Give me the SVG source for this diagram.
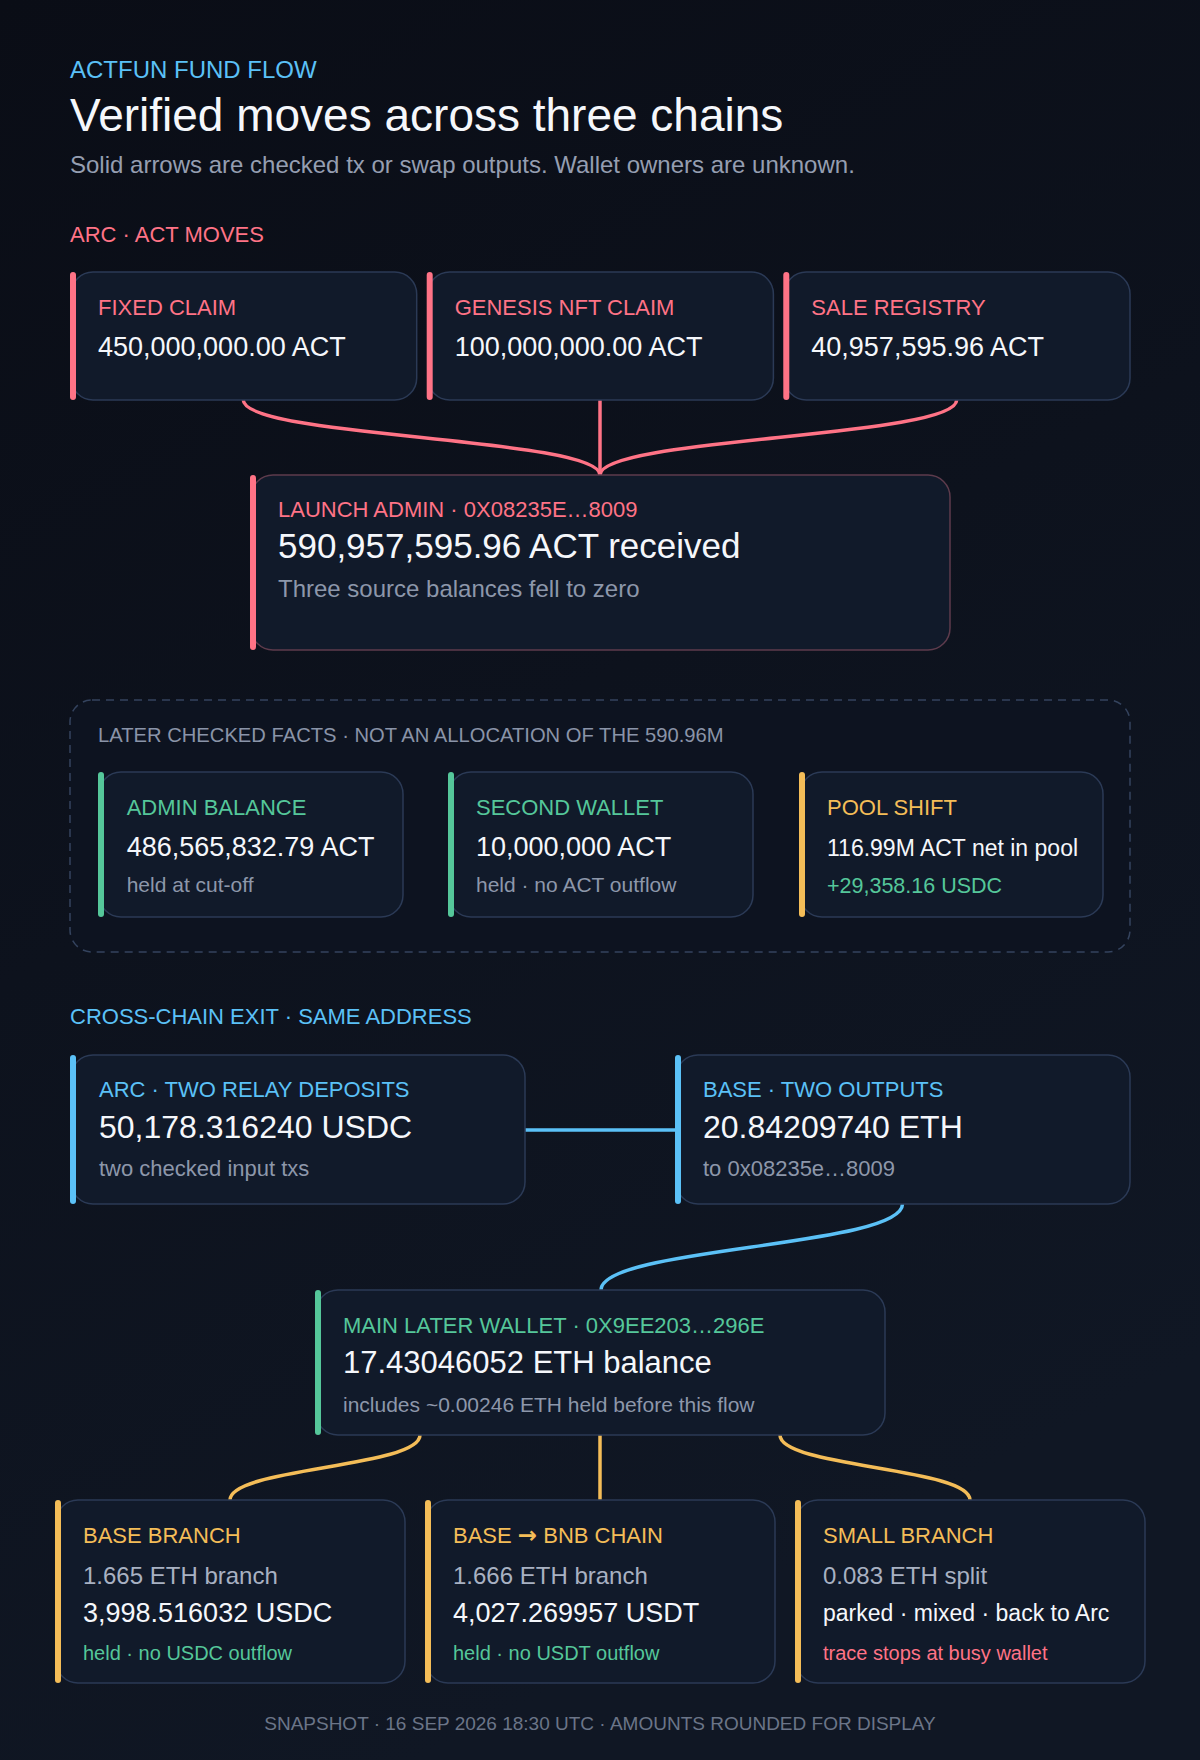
<svg xmlns="http://www.w3.org/2000/svg" width="1200" height="1760" viewBox="0 0 1200 1760">
<defs>
<linearGradient id="bg" x1="0" y1="0" x2="0.35" y2="1">
<stop offset="0" stop-color="#0a0d16"/>
<stop offset="1" stop-color="#101724"/>
</linearGradient>
<style>
text{font-family:"Liberation Sans",Arial,Helvetica,sans-serif}
.card{fill:#111a2a;stroke:#2b3a56;stroke-width:1.5}
.pinkbar{fill:#ff7386}
.greenbar{fill:#55c79a}
.yellowbar{fill:#f4bd58}
.bluebar{fill:#5bc1f7}
.lbl{font-size:22px}
.pink{fill:#ff7386}
.green{fill:#55c79a}
.yellow{fill:#f4bd58}
.blue{fill:#5bc1f7}
.val{fill:#f5f7fb;font-size:27px}
.sub{fill:#8d97aa}
.lite{fill:#a8b1c2;font-size:24px}
.con{fill:none;stroke-width:3.5;stroke-linecap:round}
</style>
</defs>
<rect width="1200" height="1760" fill="url(#bg)"/>

<g id="header">
<text x="70" y="78" font-size="24" class="blue">ACTFUN FUND FLOW</text>
<text x="70" y="131" font-size="46" fill="#f5f7fb">Verified moves across three chains</text>
<text x="70" y="173" font-size="24" fill="#959eb1">Solid arrows are checked tx or swap outputs. Wallet owners are unknown.</text>
<text x="70" y="242" class="lbl pink">ARC · ACT MOVES</text>
<text x="70" y="1024" class="lbl blue">CROSS-CHAIN EXIT · SAME ADDRESS</text>
</g>

<g id="connectors">
<path class="con" stroke="#ff7386" d="M243.3 400 C243.3 437.5 600 437.5 600 475"/>
<path class="con" stroke="#ff7386" d="M600 400 V475"/>
<path class="con" stroke="#ff7386" d="M956.7 400 C956.7 437.5 600 437.5 600 475"/>
<path class="con" stroke="#5bc1f7" stroke-width="4" d="M525 1130 H675"/>
<path class="con" stroke="#5bc1f7" stroke-width="4" d="M902.5 1204 C902.5 1247 601 1247 601 1290"/>
<path class="con" stroke="#f4bd58" d="M420 1435 C420 1467.5 230 1467.5 230 1500"/>
<path class="con" stroke="#f4bd58" d="M600 1435 V1500"/>
<path class="con" stroke="#f4bd58" d="M780 1435 C780 1467.5 970 1467.5 970 1500"/>
</g>

<g id="fixed-claim">
<rect class="card" x="71" y="272" width="345.7" height="128" rx="22"/>
<rect class="pinkbar" x="70" y="272" width="6" height="128" rx="3"/>
<text x="98" y="315" class="lbl pink">FIXED CLAIM</text>
<text x="98" y="356" class="val">450,000,000.00 ACT</text>
</g>
<g id="genesis-nft-claim">
<rect class="card" x="427.7" y="272" width="345.7" height="128" rx="22"/>
<rect class="pinkbar" x="426.7" y="272" width="6" height="128" rx="3"/>
<text x="454.7" y="315" class="lbl pink">GENESIS NFT CLAIM</text>
<text x="454.7" y="356" class="val">100,000,000.00 ACT</text>
</g>
<g id="sale-registry">
<rect class="card" x="784.3" y="272" width="345.7" height="128" rx="22"/>
<rect class="pinkbar" x="783.3" y="272" width="6" height="128" rx="3"/>
<text x="811.3" y="315" class="lbl pink">SALE REGISTRY</text>
<text x="811.3" y="356" class="val">40,957,595.96 ACT</text>
</g>

<g id="launch-admin">
<rect x="251" y="475" width="699" height="175" rx="22" fill="#111a2a" stroke="#5d3b4c" stroke-width="1.5"/>
<rect class="pinkbar" x="250" y="475" width="6" height="175" rx="3"/>
<text x="278" y="517" class="lbl pink">LAUNCH ADMIN · 0X08235E…8009</text>
<text x="278" y="558" font-size="35" fill="#f5f7fb">590,957,595.96 ACT received</text>
<text x="278" y="597" font-size="24" class="sub">Three source balances fell to zero</text>
</g>

<g id="later-facts">
<rect x="70" y="700" width="1060" height="252" rx="22" fill="#0d1320" stroke="#34435e" stroke-width="1.5" stroke-dasharray="8 6"/>
<text x="98" y="742" font-size="20.2" fill="#8a94a8">LATER CHECKED FACTS · NOT AN ALLOCATION OF THE 590.96M</text>
</g>

<g id="admin-balance">
<rect class="card" x="99" y="772" width="304" height="145" rx="22"/>
<rect class="greenbar" x="98" y="772" width="6" height="145" rx="3"/>
<text x="126.7" y="815" class="lbl green">ADMIN BALANCE</text>
<text x="126.7" y="856" class="val">486,565,832.79 ACT</text>
<text x="126.7" y="892" font-size="21" class="sub">held at cut-off</text>
</g>
<g id="second-wallet">
<rect class="card" x="449" y="772" width="304" height="145" rx="22"/>
<rect class="greenbar" x="448" y="772" width="6" height="145" rx="3"/>
<text x="476" y="815" class="lbl green">SECOND WALLET</text>
<text x="476" y="856" class="val">10,000,000 ACT</text>
<text x="476" y="892" font-size="21" class="sub">held · no ACT outflow</text>
</g>
<g id="pool-shift">
<rect class="card" x="800" y="772" width="303" height="145" rx="22"/>
<rect class="yellowbar" x="799" y="772" width="6" height="145" rx="3"/>
<text x="827" y="815" class="lbl yellow">POOL SHIFT</text>
<text x="827" y="856" font-size="23" fill="#f5f7fb">116.99M ACT net in pool</text>
<text x="827" y="893" font-size="21.5" class="green">+29,358.16 USDC</text>
</g>

<g id="arc-relay-deposits">
<rect class="card" x="71" y="1055" width="454" height="149" rx="22"/>
<rect class="bluebar" x="70" y="1055" width="6" height="149" rx="3"/>
<text x="99" y="1097" class="lbl blue">ARC · TWO RELAY DEPOSITS</text>
<text x="99" y="1138" font-size="32" fill="#f5f7fb">50,178.316240 USDC</text>
<text x="99" y="1176" font-size="22" class="sub">two checked input txs</text>
</g>
<g id="base-two-outputs">
<rect class="card" x="676" y="1055" width="454" height="149" rx="22"/>
<rect class="bluebar" x="675" y="1055" width="6" height="149" rx="3"/>
<text x="703" y="1097" class="lbl blue">BASE · TWO OUTPUTS</text>
<text x="703" y="1138" font-size="32" fill="#f5f7fb">20.84209740 ETH</text>
<text x="703" y="1176" font-size="22" class="sub">to 0x08235e…8009</text>
</g>

<g id="main-later-wallet">
<rect class="card" x="316" y="1290" width="569" height="145" rx="22"/>
<rect class="greenbar" x="315" y="1290" width="6" height="145" rx="3"/>
<text x="343" y="1333" class="lbl green">MAIN LATER WALLET · 0X9EE203…296E</text>
<text x="343" y="1373" font-size="31" fill="#f5f7fb">17.43046052 ETH balance</text>
<text x="343" y="1412" font-size="21" class="sub">includes ~0.00246 ETH held before this flow</text>
</g>

<g id="base-branch">
<rect class="card" x="56" y="1500" width="349" height="183" rx="22"/>
<rect class="yellowbar" x="55" y="1500" width="6" height="183" rx="3"/>
<text x="83" y="1543" class="lbl yellow">BASE BRANCH</text>
<text x="83" y="1584" class="lite">1.665 ETH branch</text>
<text x="83" y="1622" class="val">3,998.516032 USDC</text>
<text x="83" y="1660" font-size="20" class="green">held · no USDC outflow</text>
</g>
<g id="base-bnb-chain">
<rect class="card" x="426" y="1500" width="349" height="183" rx="22"/>
<rect class="yellowbar" x="425" y="1500" width="6" height="183" rx="3"/>
<text x="453" y="1543" class="lbl yellow">BASE <tspan font-family="'DejaVu Sans',sans-serif" font-size="23" font-weight="bold">→</tspan> BNB CHAIN</text>
<text x="453" y="1584" class="lite">1.666 ETH branch</text>
<text x="453" y="1622" class="val">4,027.269957 USDT</text>
<text x="453" y="1660" font-size="20" class="green">held · no USDT outflow</text>
</g>
<g id="small-branch">
<rect class="card" x="796" y="1500" width="349" height="183" rx="22"/>
<rect class="yellowbar" x="795" y="1500" width="6" height="183" rx="3"/>
<text x="823" y="1543" class="lbl yellow">SMALL BRANCH</text>
<text x="823" y="1584" class="lite">0.083 ETH split</text>
<text x="823" y="1621" font-size="23" fill="#f5f7fb">parked · mixed · back to Arc</text>
<text x="823" y="1660" font-size="20" class="pink">trace stops at busy wallet</text>
</g>

<g id="footer">
<text x="600" y="1730" font-size="19" fill="#6b7588" text-anchor="middle">SNAPSHOT · 16 SEP 2026 18:30 UTC · AMOUNTS ROUNDED FOR DISPLAY</text>
</g>
</svg>
